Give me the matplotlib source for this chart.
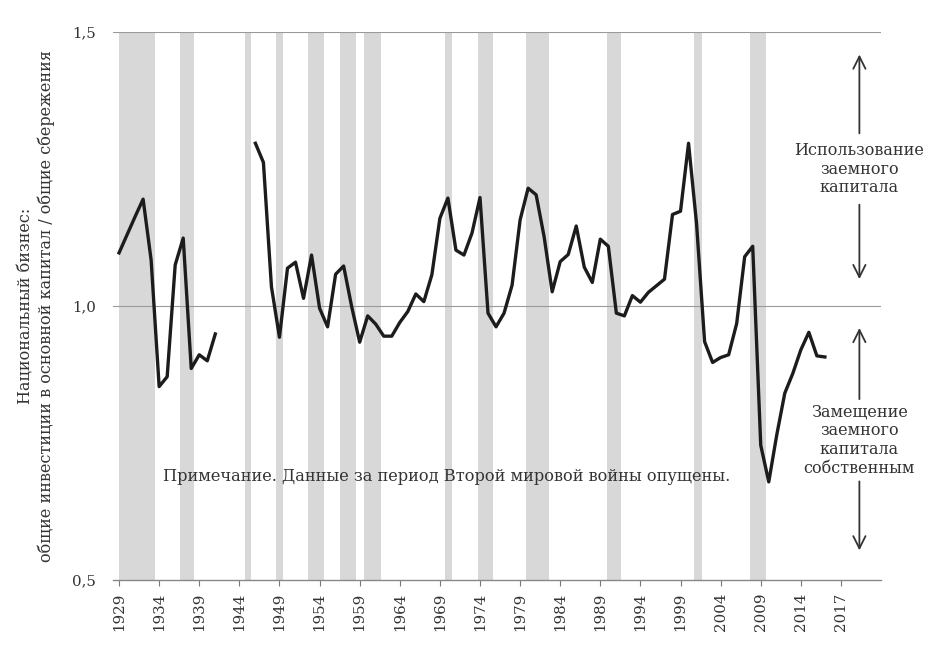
import numpy as np
import matplotlib
matplotlib.use("Agg")
import matplotlib.pyplot as plt

plt.rcParams['font.family'] = ['DejaVu Serif']

# ratio data (WWII years omitted)
years_pre = list(range(1929, 1942))
ratio_pre = [1.097, 1.130, 1.163, 1.195, 1.084, 0.853, 0.871, 1.075, 1.124,
             0.886, 0.911, 0.900, 0.949]

years_post = list(range(1946, 2018))
ratio_post = [1.297, 1.262, 1.035, 0.943, 1.069, 1.080, 1.014, 1.093, 0.996, 0.962,
              1.058, 1.073, 0.999, 0.934, 0.982, 0.967, 0.945, 0.945, 0.970, 0.990,
              1.022, 1.008, 1.057, 1.160, 1.197, 1.102, 1.093, 1.133, 1.198, 0.987,
              0.962, 0.987, 1.038, 1.157, 1.215, 1.203, 1.126, 1.026, 1.081, 1.094,
              1.146, 1.071, 1.043, 1.122, 1.109, 0.987, 0.982, 1.019, 1.007, 1.025,
              1.037, 1.049, 1.167, 1.173, 1.297, 1.150, 0.935, 0.897, 0.906, 0.911,
              0.968, 1.090, 1.109, 0.746, 0.679, 0.765, 0.841, 0.877, 0.920, 0.952,
              0.909, 0.907]

# recession bands (start, end in years)
rec_start = [1929.0, 1936.6, 1944.75, 1948.6, 1952.5, 1956.6, 1959.6, 1969.6,
             1973.7, 1979.7, 1989.8, 2000.7, 2007.7]
rec_end = [1933.5, 1938.3, 1945.5, 1949.5, 1954.6, 1958.6, 1961.6, 1970.5,
           1975.6, 1982.6, 1991.6, 2001.7, 2009.6]

tick_years = list(range(1929, 2020, 5))
tick_labels = [str(y) for y in tick_years[:-1]] + ['2017']
ytick_vals = [0.5, 1.0, 1.5]
ytick_labels = ['0,5', '1,0', '1,5']

note = 'Примечание. Данные за период Второй мировой войны опущены.'
label_up = 'Использование\nзаемного\nкапитала'
label_down = 'Замещение\nзаемного\nкапитала\nсобственным'

fig = plt.figure(figsize=(9.53, 6.55), dpi=100)
ax = fig.add_axes([0.1186, 0.1145, 0.8059, 0.8366])

for s, e in zip(rec_start, rec_end):
    ax.axvspan(s, e, color='#d8d8d8', lw=0, zorder=0)

ax.axhline(1.5, color='#9a9a9a', lw=0.8, zorder=1)
ax.axhline(1.0, color='#9a9a9a', lw=0.8, zorder=1)

ax.plot(years_pre, ratio_pre, color='#1c1c1c', lw=2.4, zorder=3)
ax.plot(years_post, ratio_post, color='#1c1c1c', lw=2.4, zorder=3)

ax.set_xlim(1928.25, 2024)
ax.set_ylim(0.5, 1.5)
ax.set_xticks(tick_years)
ax.set_xticklabels(tick_labels, rotation=90, fontsize=10.8, color='#333333')
ax.set_yticks(ytick_vals)
ax.set_yticklabels(ytick_labels, fontsize=10.8, color='#333333')
ax.tick_params(axis='y', length=0, pad=12)
ax.tick_params(axis='x', length=4, color='#777777', pad=5)

for side in ['left', 'right', 'top']:
    ax.spines[side].set_visible(False)
ax.spines['bottom'].set_color('#888888')
ax.spines['bottom'].set_linewidth(1.0)

fig.text(36 / 953, 1 - 306 / 655,
         'Национальный бизнес:\nобщие инвестиции в основной капитал / общие сбережения',
         rotation=90, ha='center', va='center', multialignment='center',
         fontsize=11.5, color='#333333')

ax.text(1969.8, 0.688, note, ha='center', va='center', fontsize=11.7, color='#333333')

xa = 2021.3
ax.text(xa, 1.25, label_up, ha='center', va='center', fontsize=11.5,
        color='#333333', linespacing=1.15)
ax.text(xa, 0.755, label_down, ha='center', va='center', fontsize=11.5,
        color='#333333', linespacing=1.15)

arrow = dict(arrowstyle='->', color='#333333', lw=1.3, mutation_scale=22)
ax.annotate('', xy=(xa, 1.464), xytext=(xa, 1.31), arrowprops=arrow)
ax.annotate('', xy=(xa, 1.044), xytext=(xa, 1.19), arrowprops=arrow)
ax.annotate('', xy=(xa, 0.965), xytext=(xa, 0.825), arrowprops=arrow)
ax.annotate('', xy=(xa, 0.549), xytext=(xa, 0.685), arrowprops=arrow)

fig.savefig('out.png', dpi=100)
